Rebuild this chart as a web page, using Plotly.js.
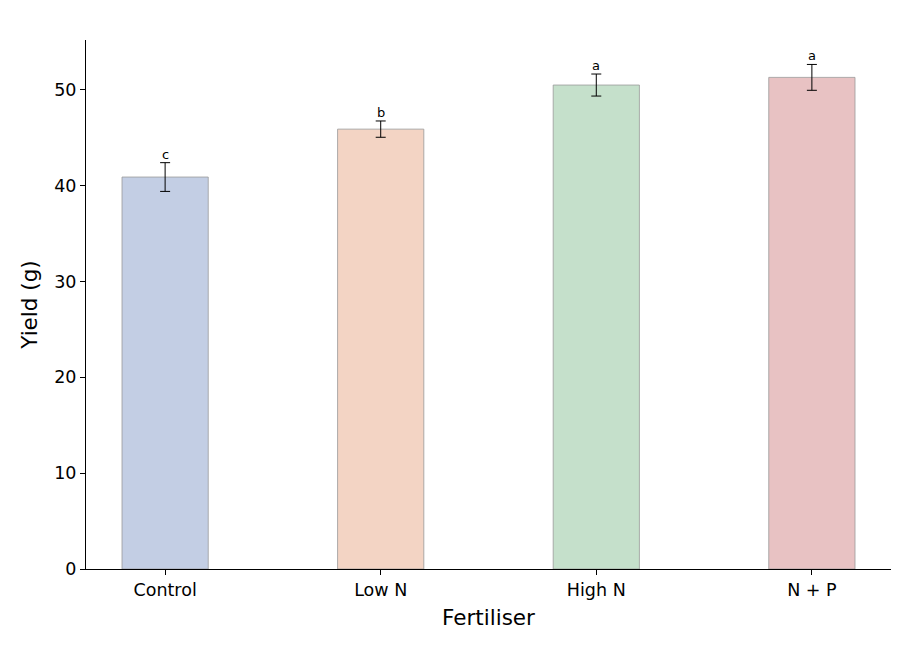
<!DOCTYPE html>
<html>
<head>
<meta charset="utf-8">
<script src="https://cdn.plot.ly/plotly-3.0.1.min.js"></script>
<style>
  body { margin: 0; background: #fff; }
  #chart { width: 910px; height: 650px; }
</style>
</head>
<body>
<div id="chart"></div>
<script>
var groups = ['Control', 'Low N', 'High N', 'N + P'];
var yieldMean = [40.9, 45.9, 50.5, 51.3];
var yieldErr = [1.5, 0.85, 1.15, 1.35];
var letters = ['c', 'b', 'a', 'a'];
var barColors = ['#c3cee4', '#f3d4c4', '#c5e0cb', '#e8c2c3'];

var bars = {
  type: 'bar',
  x: groups,
  y: yieldMean,
  width: 0.4,
  marker: {color: barColors, line: {color: '#999999', width: 0.8}},
  error_y: {type: 'data', array: yieldErr, visible: true, color: '#000', thickness: 1, width: 5},
  hoverinfo: 'x+y'
};

var notes = [];
for (var i = 0; i < groups.length; i++) {
  notes.push({
    x: groups[i],
    y: yieldMean[i] + yieldErr[i],
    text: letters[i],
    showarrow: false,
    yanchor: 'bottom',
    borderpad: 0,
    yshift: 0,
    font: {family: 'DejaVu Sans', size: 13, color: '#000'}
  });
}

var layout = {
  width: 910,
  height: 650,
  margin: {l: 86, r: 19, t: 40, b: 81},
  paper_bgcolor: '#fff',
  plot_bgcolor: '#fff',
  font: {family: 'DejaVu Sans', color: '#000'},
  showlegend: false,
  xaxis: {
    type: 'category',
    range: [-0.367, 3.367],
    showline: true,
    linecolor: '#000',
    linewidth: 1,
    ticks: 'outside',
    ticklen: 5,
    tickcolor: '#000',
    tickfont: {size: 17.5},
    title: {text: 'Fertiliser', font: {size: 21.5}, standoff: 10},
    showgrid: false,
    zeroline: false
  },
  yaxis: {
    range: [0, 55.2],
    dtick: 10,
    showline: true,
    linecolor: '#000',
    linewidth: 1,
    ticks: 'outside',
    ticklen: 5,
    tickcolor: '#000',
    tickfont: {size: 17.5},
    title: {text: 'Yield (g)', font: {size: 21.5}, standoff: 10},
    showgrid: false,
    zeroline: false
  },
  annotations: notes
};

Plotly.newPlot('chart', [bars], layout, {displayModeBar: false});
</script>
</body>
</html>
